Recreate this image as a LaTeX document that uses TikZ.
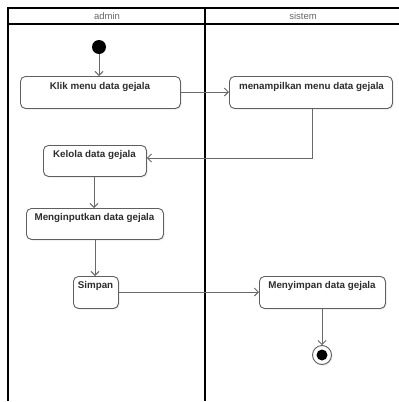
\documentclass[tikz,border=0pt]{standalone}
\usepackage{fontspec}
\setmainfont{Liberation Sans}
\usetikzlibrary{arrows.meta,shadows}
\definecolor{boxline}{RGB}{95,95,95}
\definecolor{arrowc}{RGB}{105,105,105}
\definecolor{txt}{RGB}{45,45,45}
\tikzset{
  actbox/.style={draw=boxline, line width=0.9pt, rounded corners=5pt, fill=white,
    inner sep=0pt, anchor=north west,
    drop shadow={opacity=0.18, shadow xshift=1.2pt, shadow yshift=-1.2pt}},
  lbl/.style={font=\fontsize{9.8}{11}\selectfont\bfseries, text=txt, anchor=north, inner sep=0pt},
  flow/.style={draw=arrowc, line width=0.9pt, -{Straight Barb[length=4pt,width=8pt]}},
  lane/.style={draw=black, line width=1.3pt},
  head/.style={font=\fontsize{9.5}{10}\selectfont, text=black!60, inner sep=0pt}
}
\begin{document}
\begin{tikzpicture}[x=1pt,y=-1pt]
\useasboundingbox (0,0) rectangle (399,402);
\clip (0,0) rectangle (399,402);
% swimlanes
\draw[lane] (8,401) -- (8,8) -- (402,8);
\draw[lane] (8,24) -- (402,24);
\draw[draw=black, line width=2pt] (205,8) -- (205,401);
\node[head] (hadmin) at (107,16) {admin};
\node[head] (hsistem) at (303,16) {sistem};
% start
\node[circle, fill=black, minimum size=14pt, inner sep=0pt] (start) at (99,47) {};
% boxes
\node[actbox, minimum width=160pt, minimum height=32pt] (klik) at (20,76) {};
\node[lbl] (klikt) at (100,82) {Klik menu data gejala};
\node[actbox, minimum width=163pt, minimum height=32pt] (tampil) at (229,76) {};
\node[lbl] (tampilt) at (311.5,82) {menampilkan menu data gejala};
\node[actbox, minimum width=103pt, minimum height=31pt] (kelola) at (43,145) {};
\node[lbl] (kelolat) at (94.5,150.5) {Kelola data gejala};
\node[actbox, minimum width=137pt, minimum height=31pt] (input) at (26,208) {};
\node[lbl] (inputt) at (94.5,213.5) {Menginputkan data gejala};
\node[actbox, minimum width=45pt, minimum height=32pt] (simpan) at (73,276) {};
\node[lbl] (simpant) at (95.5,281.5) {Simpan};
\node[actbox, minimum width=126pt, minimum height=32pt] (nyimpan) at (259,276) {};
\node[lbl] (nyimpant) at (322,281.5) {Menyimpan data gejala};
% end
\node[circle, draw=boxline, line width=0.9pt, fill=white, minimum size=19pt, inner sep=0pt,
  drop shadow={opacity=0.18, shadow xshift=1.2pt, shadow yshift=-1.2pt}] (end) at (322,355) {};
\node[circle, fill=black, minimum size=11pt, inner sep=0pt] (endin) at (end.center) {};
% flows
\draw[flow] (start) -- (klik.north -| start);
\draw[flow] (klik.east |- 0,92) -- (tampil.west |- 0,92);
\draw[flow] (tampil.south -| 312,0) -- (312,158) -- (kelola.east |- 0,158);
\draw[flow] (kelola.south -| 94,0) -- (input.north -| 94,0);
\draw[flow] (input.south -| 95,0) -- (simpan.north -| 95,0);
\draw[flow] (simpan.east |- 0,292) -- (nyimpan.west |- 0,292);
\draw[flow] (nyimpan.south -| end) -- (end.north);
\end{tikzpicture}
\end{document}
